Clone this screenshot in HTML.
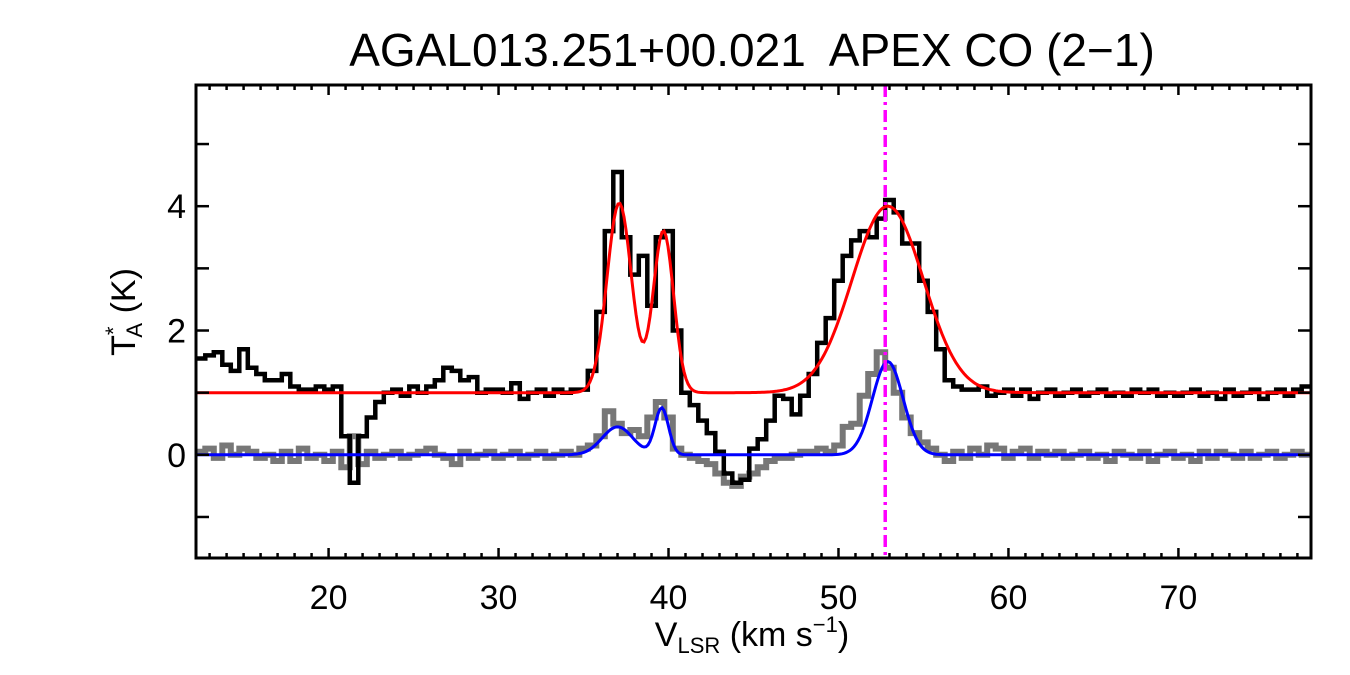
<!DOCTYPE html>
<html><head><meta charset="utf-8"><style>
html,body{margin:0;padding:0;background:#fff;width:1350px;height:675px;overflow:hidden}
svg text{font-family:"Liberation Sans",Arial,sans-serif;fill:#000}
</style></head><body>
<svg id="chart" width="1350" height="675" viewBox="0 0 1350 675" xmlns="http://www.w3.org/2000/svg">
<text x="752" y="66" font-size="46" text-anchor="middle" xml:space="preserve">AGAL013.251+00.021  APEX CO (2−1)</text>
<g id="plot"></g>
<rect x="196" y="85" width="1115" height="473" fill="none" stroke="#000" stroke-width="3"/>
<g id="ticks"></g>
<text x="752" y="646" font-size="34" text-anchor="middle">V<tspan font-size="22" dy="7">LSR</tspan><tspan dy="-7"> (km s</tspan><tspan font-size="22" dy="-14">−1</tspan><tspan dy="14">)</tspan></text>
<text transform="translate(135,312) rotate(-90)" font-size="34" text-anchor="middle">T<tspan font-size="22" dy="-14">*</tspan><tspan font-size="22" dx="-11" dy="21">A</tspan><tspan dy="-7"> (K)</tspan></text>
</svg>
<script>
const velocities = [];
for (let v = 12.5; v <= 77.51; v += 0.5) velocities.push(v);
const co21 = [1.55,1.6,1.65,1.45,1.35,1.7,1.4,1.3,1.2,1.2,1.3,1.1,1.05,1.05,1.1,1.05,1.1,0.3,-0.45,0.3,0.6,0.85,1.0,1.05,0.95,1.1,1.0,1.1,1.2,1.4,1.35,1.2,1.25,1.0,1.05,1.05,1.0,1.15,0.9,1.0,1.05,0.95,1.05,1.0,1.05,1.05,1.35,2.3,3.6,4.55,3.5,2.9,3.2,2.4,3.5,3.6,2.0,1.0,0.8,0.55,0.35,0.05,-0.3,-0.45,-0.4,0.1,0.25,0.55,0.95,0.9,0.65,0.95,1.3,1.8,2.2,2.8,3.2,3.45,3.6,3.5,3.8,4.1,3.9,3.4,3.4,2.8,2.3,1.7,1.2,1.1,1.05,1.05,1.1,0.95,1.0,1.05,0.95,1.05,0.9,1.0,1.05,0.95,1.0,1.05,0.95,1.0,1.05,0.95,1.0,0.95,1.05,1.0,1.05,0.95,1.0,0.95,1.0,1.05,0.95,1.0,0.9,1.05,0.95,1.0,1.05,0.9,1.0,1.05,0.95,1.05,1.1];
const secondLine = [0.05,0.1,-0.05,0.15,0.0,0.1,0.05,-0.05,0.0,-0.1,0.05,-0.1,0.1,-0.05,0.0,-0.1,0.05,-0.2,0.3,-0.15,0.05,-0.05,0.0,0.05,-0.05,0.0,0.05,0.1,0.0,-0.05,-0.15,0.05,-0.05,0.0,0.05,-0.05,0.0,0.05,-0.05,0.0,0.05,-0.05,0.0,0.05,0.0,0.1,0.15,0.3,0.7,0.5,0.35,0.4,0.3,0.6,0.85,0.6,0.1,0.0,-0.05,-0.1,-0.15,-0.3,-0.45,-0.5,-0.35,-0.3,-0.2,-0.1,-0.05,-0.05,0.0,0.05,0.05,0.1,0.05,0.15,0.45,0.5,0.95,1.3,1.65,1.4,1.0,0.6,0.35,0.2,0.1,0.0,-0.1,0.05,-0.05,0.1,0.0,0.15,0.1,-0.05,0.05,0.1,-0.05,0.05,0.0,0.05,-0.05,0.0,0.05,-0.05,0.0,-0.1,0.05,0.0,-0.05,0.05,-0.1,0.0,0.05,-0.05,0.0,-0.1,0.05,-0.05,0.05,0.0,-0.05,0.05,-0.05,0.0,0.05,-0.05,0.0,0.05,0.0];
const redCenters = [37.1, 39.7, 52.9];
const redAmps = [3.05, 2.6, 3.0];
const redSigmas = [0.72, 0.6, 2.1];
const redBase = 1.0;
const blueCenters = [37.0, 39.6, 52.9];
const blueAmps = [0.45, 0.75, 1.5];
const blueSigmas = [0.9, 0.4, 0.9];
const blueBase = 0.0;
const xTickLabels = [20, 30, 40, 50, 60, 70];
const yTickLabels = [0, 2, 4];
const markerVelocity = 52.75;
const xMin = 12.2, xMax = 77.8, yMin = -1.66, yMax = 5.95;

const L = 196, R = 1311, T = 85, B = 558;
const xs = v => L + (v - xMin) / (xMax - xMin) * (R - L);
const ys = t => B - (t - yMin) / (yMax - yMin) * (B - T);
const NS = 'http://www.w3.org/2000/svg';
const plot = document.getElementById('plot');
const ticks = document.getElementById('ticks');
function mk(tag, attrs, parent) {
  const e = document.createElementNS(NS, tag);
  for (const k in attrs) e.setAttribute(k, attrs[k]);
  parent.appendChild(e);
  return e;
}
const clip = mk('clipPath', {id: 'pc'}, plot);
mk('rect', {x: L, y: T, width: R - L, height: B - T}, clip);

function stepPath(vals) {
  const h = 0.25;
  let d = '';
  velocities.forEach((v, i) => {
    const y = ys(vals[i]).toFixed(1);
    d += (i === 0 ? 'M' : 'L') + xs(Math.max(v - h, xMin)).toFixed(1) + ',' + y + 'L' + xs(Math.min(v + h, xMax)).toFixed(1) + ',' + y;
  });
  return d;
}
function fitPath(cs, as, ss, base) {
  let d = '';
  for (let px = L; px <= R; px += 2) {
    const v = xMin + (px - L) / (R - L) * (xMax - xMin);
    let t = base;
    for (let k = 0; k < cs.length; k++) t += as[k] * Math.exp(-0.5 * Math.pow((v - cs[k]) / ss[k], 2));
    d += (px === L ? 'M' : 'L') + px + ',' + ys(t).toFixed(1);
  }
  return d;
}
const g2 = mk('path', {d: stepPath(secondLine), fill: 'none', stroke: '#777', 'stroke-width': 6, 'clip-path': 'url(#pc)'}, plot);


const bl = mk('path', {d: stepPath(co21), fill: 'none', stroke: '#000', 'stroke-width': 4.5, 'clip-path': 'url(#pc)'}, plot);


const rf = mk('path', {d: fitPath(redCenters, redAmps, redSigmas, redBase), fill: 'none', stroke: '#f00', 'stroke-width': 3}, plot);


const bf = mk('path', {d: fitPath(blueCenters, blueAmps, blueSigmas, blueBase), fill: 'none', stroke: '#00f', 'stroke-width': 3}, plot);


const mv = mk('line', {x1: xs(markerVelocity), x2: xs(markerVelocity), y1: T, y2: B, stroke: '#f0f', 'stroke-width': 3.5, 'stroke-dasharray': '12,5,3,5'}, plot);



for (let v = Math.ceil(xMin); v <= xMax; v++) {
  const x = xs(v), len = v % 10 === 0 ? 10 : 5;
  const t1 = mk('line', {x1: x, x2: x, y1: B, y2: B - len, stroke: '#000', 'stroke-width': 2.5}, ticks);
  
  
  const t2 = mk('line', {x1: x, x2: x, y1: T, y2: T + len, stroke: '#000', 'stroke-width': 2.5}, ticks);
  
  
}
xTickLabels.forEach(v => {
  const t = mk('text', {x: xs(v), y: 609, 'font-size': 34, 'text-anchor': 'middle'}, ticks);
  t.textContent = v;
  
  
});
for (let t = Math.ceil(yMin); t <= yMax; t++) {
  const y = ys(t);
  const a = mk('line', {x1: L, x2: L + 13, y1: y, y2: y, stroke: '#000', 'stroke-width': 2.5}, ticks);
  
  
  const b = mk('line', {x1: R, x2: R - 13, y1: y, y2: y, stroke: '#000', 'stroke-width': 2.5}, ticks);
  
  
}
yTickLabels.forEach(t => {
  const e = mk('text', {x: 186, y: ys(t) + 12, 'font-size': 34, 'text-anchor': 'end'}, ticks);
  e.textContent = t;
  
  
});
</script>
</body></html>
